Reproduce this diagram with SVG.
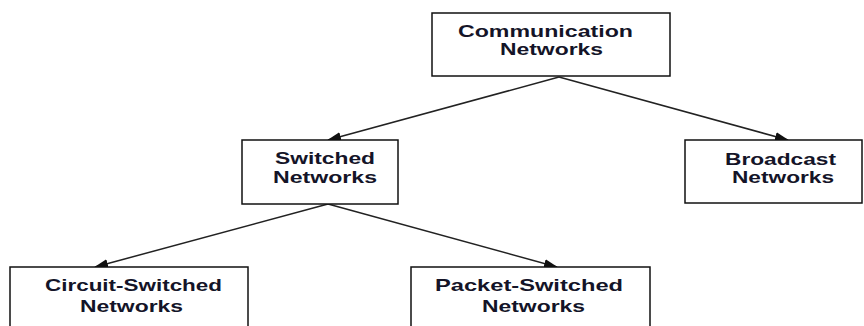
<svg xmlns="http://www.w3.org/2000/svg" width="864" height="326" viewBox="0 0 864 326">
<defs>
<marker id="ah" markerUnits="userSpaceOnUse" markerWidth="14" markerHeight="10" refX="13" refY="4.5" orient="auto">
<path d="M0,0 L14,4.5 L0,9 z" fill="#111"/>
</marker>
<style>
.box{fill:#fff;stroke:#111;stroke-width:1.5}
.t{font-family:"Liberation Sans",Arial,sans-serif;font-weight:bold;font-size:17px;fill:#141428}
.c{stroke:#222;stroke-width:1.5;fill:none;marker-end:url(#ah)}
</style>
</defs>
<rect width="864" height="326" fill="#fff"/>
<g id="connectors">
<line class="c" x1="559" y1="77" x2="328" y2="140"/>
<line class="c" x1="559" y1="77" x2="788" y2="140"/>
<line class="c" x1="328" y1="204" x2="95" y2="267"/>
<line class="c" x1="328" y1="204" x2="557" y2="267"/>
</g>
<g id="communication">
<rect class="box" x="432" y="13" width="238" height="63"/>
<text class="t" x="458" y="37" textLength="175" lengthAdjust="spacingAndGlyphs">Communication</text>
<text class="t" x="500" y="55" textLength="103" lengthAdjust="spacingAndGlyphs">Networks</text>
</g>
<g id="switched">
<rect class="box" x="242" y="140" width="156" height="64"/>
<text class="t" x="275" y="164" textLength="100" lengthAdjust="spacingAndGlyphs">Switched</text>
<text class="t" x="273" y="183" textLength="104" lengthAdjust="spacingAndGlyphs">Networks</text>
</g>
<g id="broadcast">
<rect class="box" x="685" y="140" width="177" height="63"/>
<text class="t" x="725" y="165" textLength="111" lengthAdjust="spacingAndGlyphs">Broadcast</text>
<text class="t" x="732" y="183" textLength="102" lengthAdjust="spacingAndGlyphs">Networks</text>
</g>
<g id="circuit">
<rect class="box" x="10" y="267" width="238" height="70"/>
<text class="t" x="45" y="291" textLength="177" lengthAdjust="spacingAndGlyphs">Circuit-Switched</text>
<text class="t" x="80" y="312" textLength="103" lengthAdjust="spacingAndGlyphs">Networks</text>
</g>
<g id="packet">
<rect class="box" x="411" y="267" width="239" height="70"/>
<text class="t" x="435" y="291" textLength="188" lengthAdjust="spacingAndGlyphs">Packet-Switched</text>
<text class="t" x="482" y="312" textLength="103" lengthAdjust="spacingAndGlyphs">Networks</text>
</g>
</svg>
